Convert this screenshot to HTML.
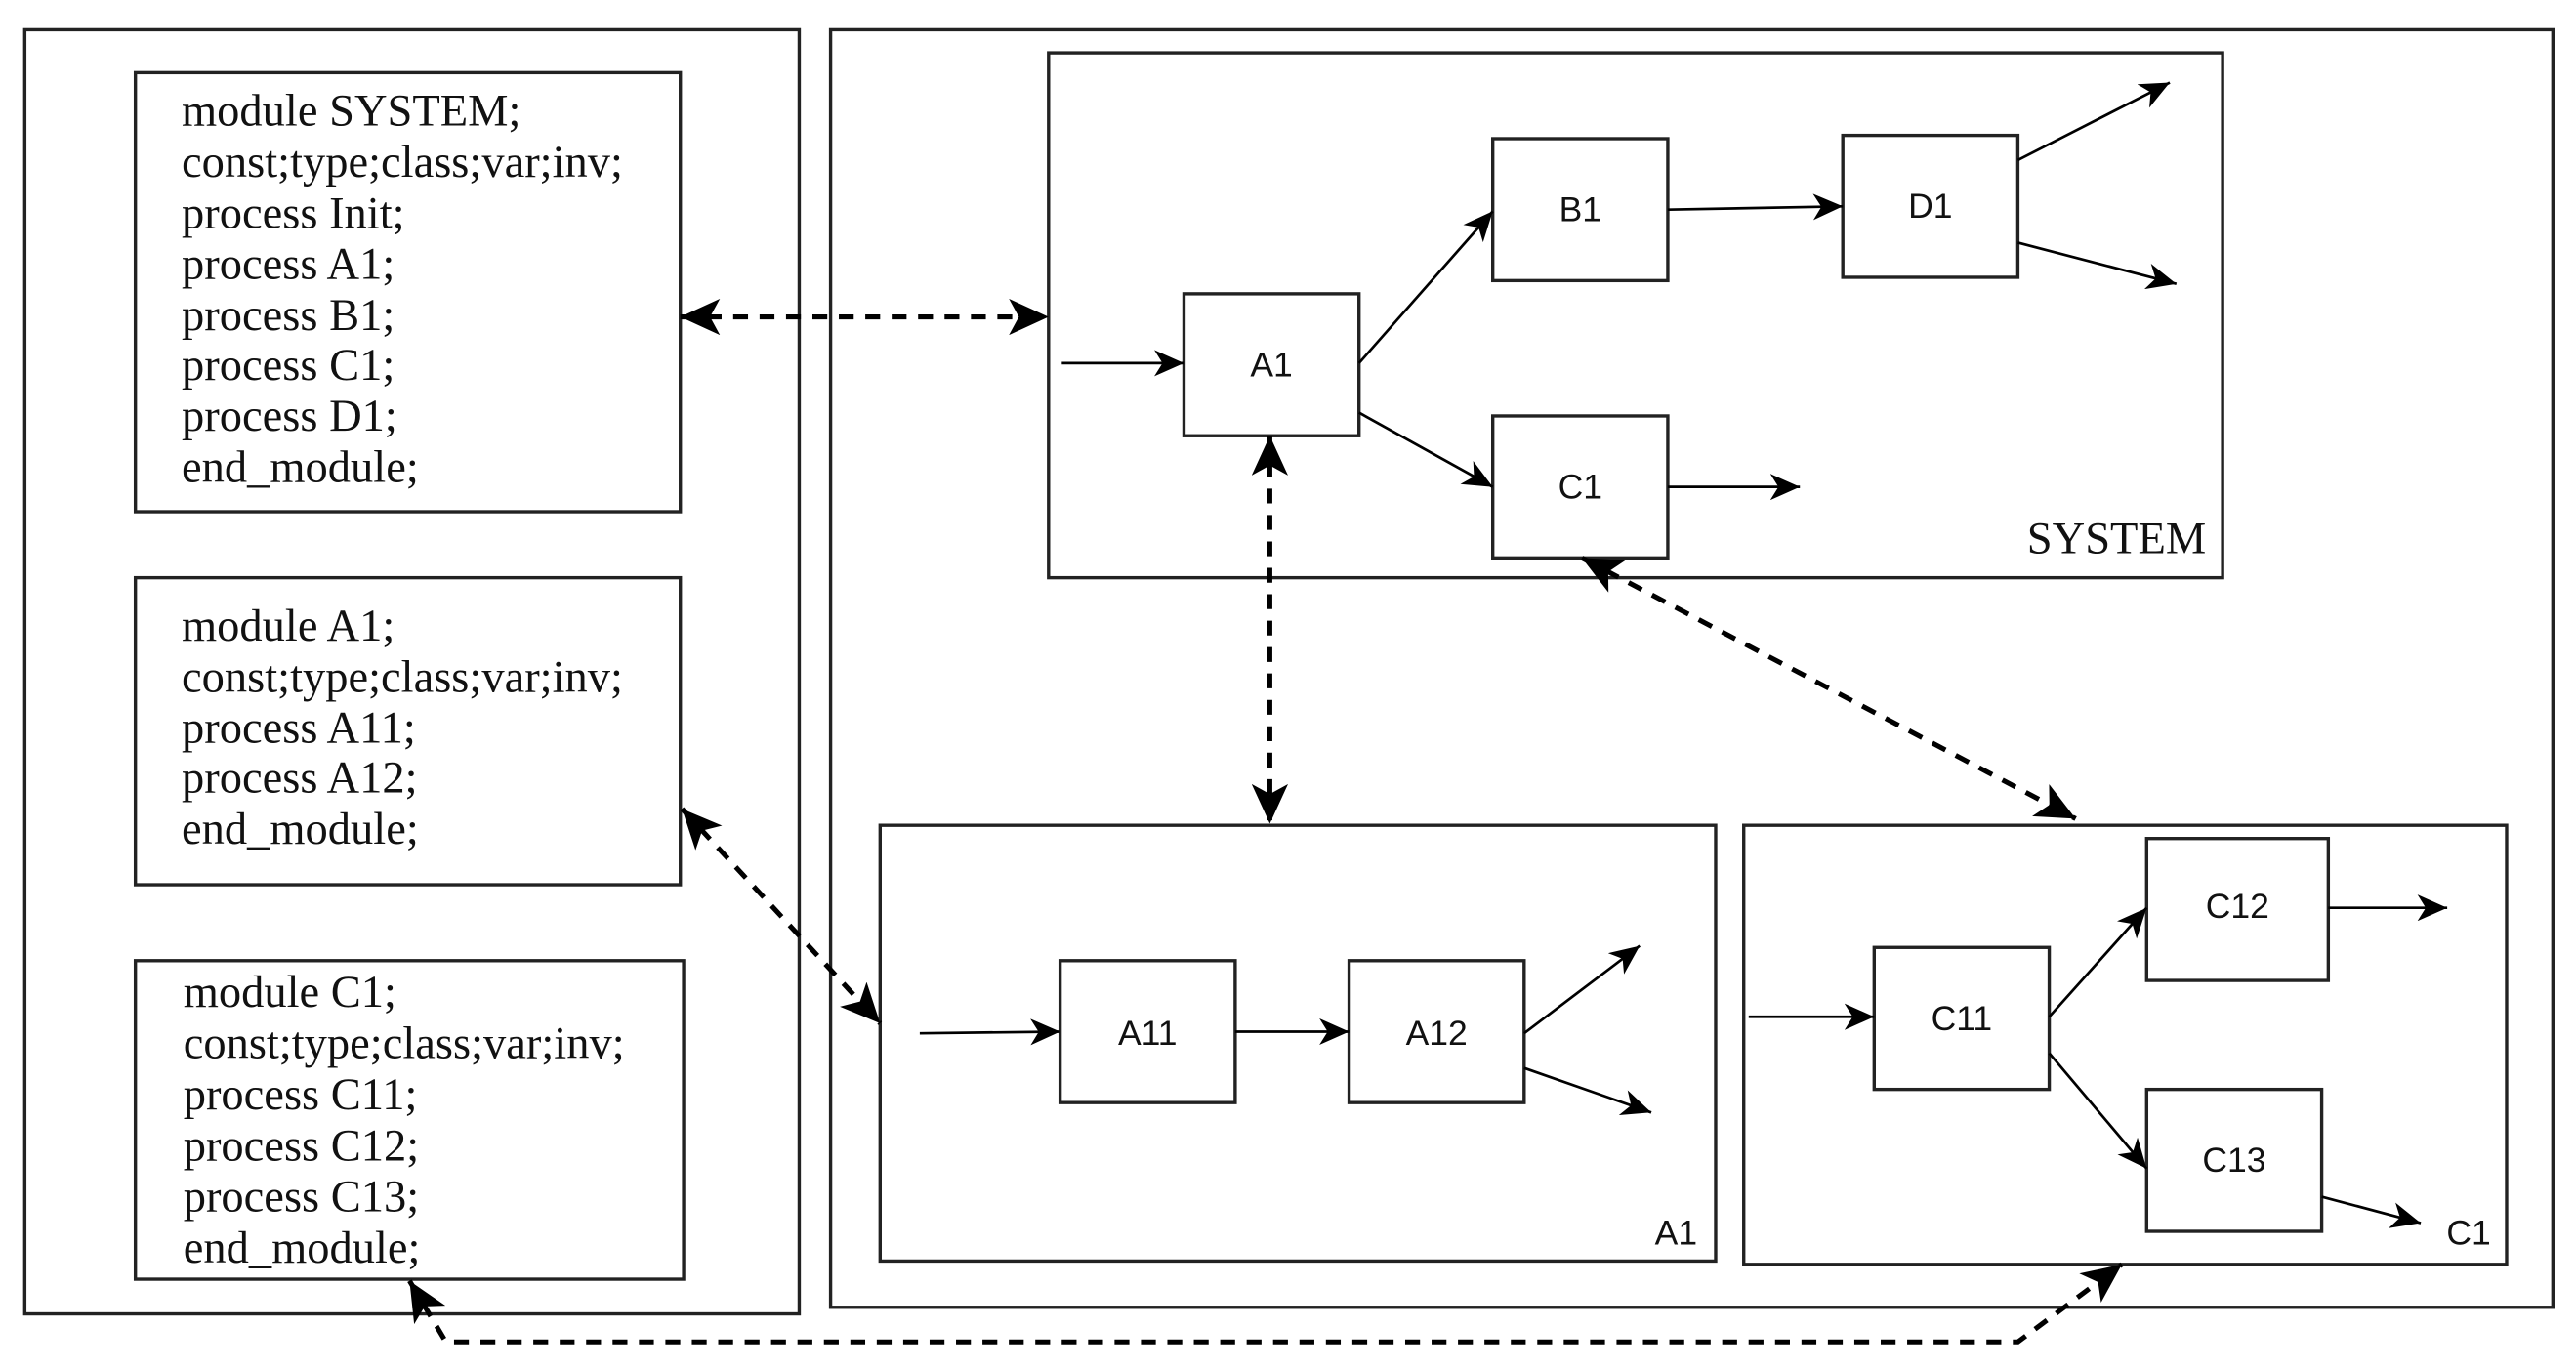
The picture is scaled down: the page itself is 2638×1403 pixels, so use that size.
<!DOCTYPE html>
<html><head><meta charset="utf-8"><style>
html,body{margin:0;padding:0;background:#fff;}
svg{display:block;}
.s{font-family:"Liberation Serif",serif;font-size:27.5px;fill:#111;}
.a{font-family:"Liberation Sans",sans-serif;font-size:21px;fill:#111;}
</style></head><body>
<svg width="2638" height="1403" viewBox="0 0 1560 830" preserveAspectRatio="none" xmlns="http://www.w3.org/2000/svg">
<defs>
<marker id="m" markerUnits="userSpaceOnUse" markerWidth="20" markerHeight="16" refX="18" refY="8" orient="auto-start-reverse"><path d="M0,0 L18,8 L0,16 L5,8 z" fill="#000"/></marker>
<marker id="d" markerUnits="userSpaceOnUse" markerWidth="26" markerHeight="22" refX="24" refY="11" orient="auto-start-reverse"><path d="M0,0 L24,11 L0,22 L6,11 z" fill="#000"/></marker>
</defs>
<g fill="#fff" stroke="#222" stroke-width="2">
<rect x="15" y="18" width="469" height="778"/>
<rect x="82" y="44" width="330" height="266"/>
<rect x="82" y="350" width="330" height="186"/>
<rect x="82" y="582" width="332" height="193"/>
<rect x="503" y="18" width="1043" height="774"/>
<rect x="635" y="32" width="711" height="318"/>
<rect x="717" y="178" width="106" height="86"/>
<rect x="904" y="84" width="106" height="86"/>
<rect x="1116" y="82" width="106" height="86"/>
<rect x="904" y="252" width="106" height="86"/>
<rect x="533" y="500" width="506" height="264"/>
<rect x="642" y="582" width="106" height="86"/>
<rect x="817" y="582" width="106" height="86"/>
<rect x="1056" y="500" width="462" height="266"/>
<rect x="1135" y="574" width="106" height="86"/>
<rect x="1300" y="508" width="110" height="86"/>
<rect x="1300" y="660" width="106" height="86"/>
</g>
<g class="s">
<text x="110" y="76">module SYSTEM;</text>
<text x="110" y="107">const;type;class;var;inv;</text>
<text x="110" y="138">process Init;</text>
<text x="110" y="169">process A1;</text>
<text x="110" y="200">process B1;</text>
<text x="110" y="230">process C1;</text>
<text x="110" y="261">process D1;</text>
<text x="110" y="292">end_module;</text>
<text x="110" y="388">module A1;</text>
<text x="110" y="419">const;type;class;var;inv;</text>
<text x="110" y="450">process A11;</text>
<text x="110" y="480">process A12;</text>
<text x="110" y="511">end_module;</text>
<text x="111" y="610">module C1;</text>
<text x="111" y="641">const;type;class;var;inv;</text>
<text x="111" y="672">process C11;</text>
<text x="111" y="703">process C12;</text>
<text x="111" y="734">process C13;</text>
<text x="111" y="765">end_module;</text>
<text x="1336" y="335" text-anchor="end">SYSTEM</text>
</g>
<g class="a" text-anchor="middle">
<text x="770" y="228">A1</text>
<text x="957" y="134">B1</text>
<text x="1169" y="132">D1</text>
<text x="957" y="302">C1</text>
<text x="695" y="633">A11</text>
<text x="870" y="633">A12</text>
<text x="1188" y="624">C11</text>
<text x="1355" y="556">C12</text>
<text x="1353" y="710">C13</text>
<text x="1015" y="754">A1</text>
<text x="1495" y="754">C1</text>
</g>
<g stroke="#000" stroke-width="1.6" fill="none" marker-end="url(#m)">
<line x1="643" y1="220" x2="717" y2="220"/>
<line x1="823" y1="220" x2="904" y2="128"/>
<line x1="823" y1="250" x2="904" y2="295"/>
<line x1="1010" y1="127" x2="1116" y2="125"/>
<line x1="1222" y1="97" x2="1314" y2="50"/>
<line x1="1222" y1="147" x2="1318" y2="172"/>
<line x1="1010" y1="295" x2="1090" y2="295"/>
<line x1="557" y1="626" x2="642" y2="625"/>
<line x1="748" y1="625" x2="817" y2="625"/>
<line x1="923" y1="626" x2="993" y2="573"/>
<line x1="923" y1="647" x2="1000" y2="674"/>
<line x1="1059" y1="616" x2="1135" y2="616"/>
<line x1="1241" y1="616" x2="1300" y2="550"/>
<line x1="1241" y1="638" x2="1300" y2="708"/>
<line x1="1410" y1="550" x2="1482" y2="550"/>
<line x1="1406" y1="725" x2="1466" y2="741"/>
</g>
<g stroke="#000" stroke-width="3" fill="none" stroke-dasharray="9,7" marker-start="url(#d)" marker-end="url(#d)">
<line x1="412" y1="192" x2="635" y2="192"/>
<line x1="769" y1="264" x2="769" y2="499"/>
<line x1="958" y1="338" x2="1257" y2="496"/>
<line x1="413" y1="490" x2="533" y2="620"/>
<polyline points="248,776 270,813 1222,813 1285,766"/>
</g>
</svg>
</body></html>
